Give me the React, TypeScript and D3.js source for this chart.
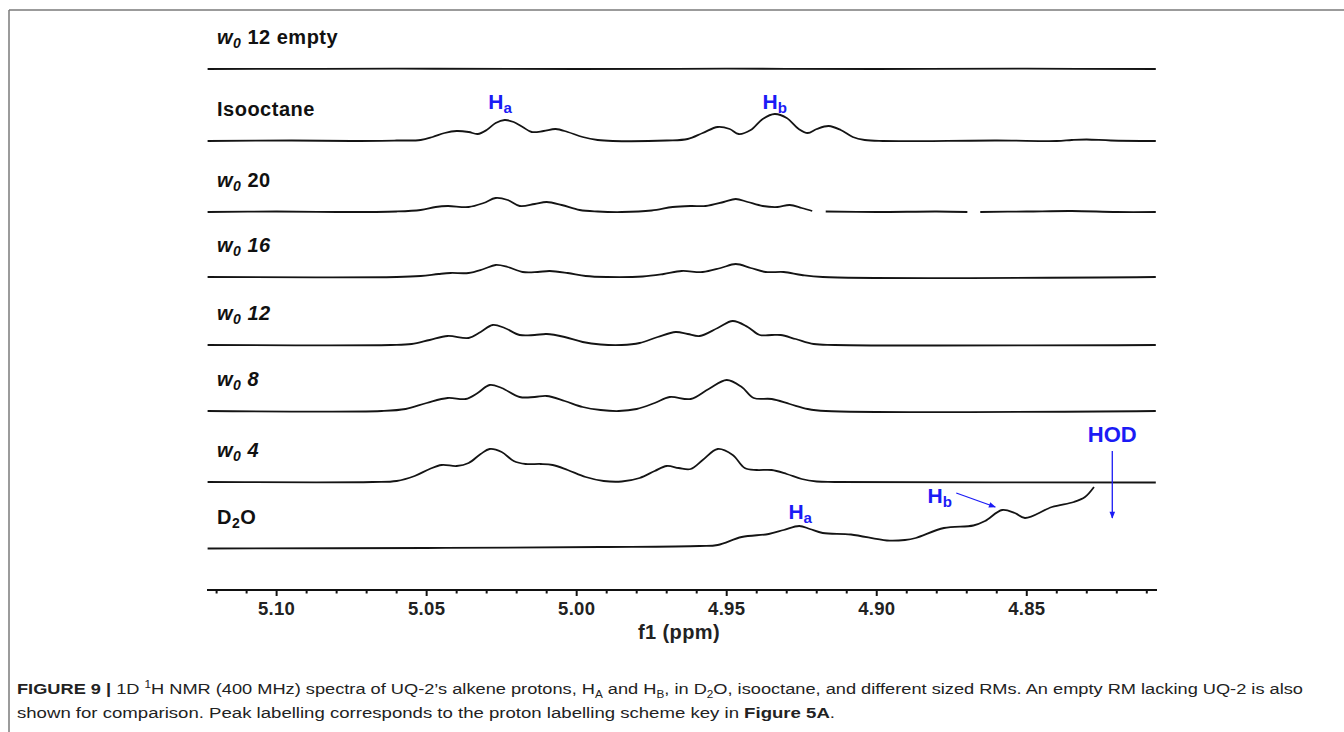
import React from "react";
import * as d3 from "d3";

type Pt = [number, number];

// ---- axis ticks (ppm) ----
const majorTicks = [5.1, 5.05, 5.0, 4.95, 4.9, 4.85];
const minorTicks = [5.12, 5.11, 5.09, 5.08, 5.07, 5.06, 5.04, 5.03, 5.02, 5.01, 4.99, 4.98, 4.97, 4.96, 4.94, 4.93, 4.92, 4.91, 4.89, 4.88, 4.87, 4.86, 4.84, 4.83, 4.82, 4.81];
const tickLabels = ["5.10", "5.05", "5.00", "4.95", "4.90", "4.85"];
const ppmDomain: Pt = [5.1232, 4.8066];

// ---- spectra: [ppm, intensity] ----
const specEmpty: Pt[] = [[5.123, 0], [5.06, 0.3], [5.0, 0], [4.95, 0.3], [4.9, 0], [4.85, 0.3], [4.807, 0]];

const specIsooctane: Pt[] = [
  [5.123, 0], [5.095, 0.5], [5.075, 0], [5.06, 0.5], [5.052, 1], [5.048, 4], [5.044, 8], [5.04, 10], [5.036, 9],
  [5.033, 7], [5.03, 11], [5.027, 18], [5.024, 21], [5.021, 19], [5.018, 14], [5.015, 9], [5.011, 10], [5.007, 12],
  [5.003, 9], [4.998, 4], [4.993, 1], [4.988, 0], [4.97, 0.5], [4.963, 2], [4.958, 8], [4.953, 14], [4.949, 12],
  [4.946, 7], [4.942, 11], [4.938, 22], [4.934, 27], [4.93, 23], [4.926, 12], [4.923, 8], [4.92, 12], [4.916, 15],
  [4.912, 11], [4.908, 4], [4.904, 1], [4.898, 0], [4.86, 0.5], [4.84, 0], [4.835, 1], [4.83, 1.5], [4.822, 0.5], [4.807, 0],
];

const specW20: Pt[] = [
  [5.123, 0], [5.1, 0.5], [5.08, 0], [5.06, 0.5], [5.052, 2], [5.047, 5], [5.043, 6], [5.036, 5], [5.031, 9],
  [5.027, 14], [5.023, 12], [5.019, 6], [5.014, 8], [5.01, 10], [5.005, 7], [4.999, 2], [4.993, 0.5], [4.985, 0],
  [4.975, 1.5], [4.968, 5], [4.962, 6], [4.957, 6], [4.951, 10], [4.947, 13], [4.943, 10], [4.938, 6], [4.933, 5],
  [4.929, 7], [4.925, 4], [4.9215, 1], [4.921, NaN], [4.9175, NaN], [4.917, 0.5], [4.9, 0], [4.88, 0.5], [4.8698, 0],
  [4.869, NaN], [4.866, NaN], [4.8655, 0], [4.85, 0.5], [4.835, 1], [4.82, 0], [4.807, 0],
];

const specW16: Pt[] = [
  [5.123, 0], [5.06, 0], [5.052, 1], [5.046, 3], [5.042, 4], [5.036, 4], [5.031, 8], [5.027, 12], [5.023, 10],
  [5.018, 5], [5.013, 5], [5.009, 6], [5.003, 4], [4.997, 1], [4.99, 0], [4.978, 0.5], [4.971, 3], [4.965, 6],
  [4.958, 5], [4.952, 9], [4.947, 13], [4.942, 9], [4.937, 5], [4.931, 5], [4.925, 2], [4.918, 0], [4.807, 0],
];

const specW12: Pt[] = [
  [5.123, 0], [5.062, 0], [5.055, 1], [5.049, 5], [5.043, 9], [5.036, 7], [5.032, 13], [5.028, 20], [5.024, 17],
  [5.019, 10], [5.014, 10], [5.01, 11], [5.004, 8], [4.998, 3], [4.992, 0.5], [4.985, 0], [4.979, 2], [4.973, 8],
  [4.967, 13], [4.963, 11], [4.959, 9], [4.953, 17], [4.948, 24], [4.943, 18], [4.939, 10], [4.935, 10], [4.932, 10],
  [4.927, 6], [4.921, 1], [4.914, 0], [4.807, 0],
];

const specW8: Pt[] = [
  [5.123, 0], [5.065, 0], [5.057, 2], [5.05, 8], [5.043, 13], [5.037, 12], [5.033, 18], [5.029, 26], [5.025, 23],
  [5.019, 14], [5.014, 14], [5.01, 15], [5.004, 10], [4.998, 4], [4.992, 1], [4.986, 0], [4.98, 2], [4.974, 8],
  [4.969, 14], [4.962, 12], [4.956, 22], [4.95, 31], [4.945, 24], [4.941, 13], [4.935, 12], [4.929, 7], [4.923, 2],
  [4.917, 0], [4.807, 0],
];

const specW4: Pt[] = [
  [5.123, 0], [5.068, 0], [5.06, 1], [5.054, 6], [5.049, 13], [5.045, 17], [5.04, 16], [5.036, 19], [5.032, 28],
  [5.029, 33], [5.025, 30], [5.021, 21], [5.017, 18], [5.012, 18], [5.008, 17], [5.003, 12], [4.997, 5], [4.991, 1],
  [4.985, 0.5], [4.979, 4], [4.974, 11], [4.97, 16], [4.966, 14], [4.962, 13], [4.958, 22], [4.953, 33], [4.948, 27],
  [4.944, 14], [4.94, 12], [4.935, 12], [4.93, 8], [4.925, 3], [4.92, 0.5], [4.914, 0], [4.807, -0.5],
];

const specD2O: Pt[] = [
  [5.123, 0.5], [5.05, 1], [4.992, 2], [4.959, 3], [4.953, 4], [4.945, 12], [4.936, 15], [4.931, 19], [4.9258, 23],
  [4.9223, 20], [4.918, 16], [4.9086, 14.5], [4.8966, 8.5], [4.8906, 9], [4.887, 11], [4.8776, 21], [4.8678, 23.5],
  [4.8639, 28], [4.8582, 39], [4.854, 36], [4.8506, 31], [4.8416, 42], [4.8343, 47], [4.8306, 52], [4.8276, 62],
];

const spectra: Pt[][] = [specD2O, specW4, specW8, specW12, specW16, specW20, specIsooctane, specEmpty];
const stackOffsets = [0, 67, 138, 204, 272, 337, 408, 480];

const BLUE = "#1b1bf5";
const FONT = "'Liberation Sans', Arial, Helvetica, sans-serif";
const LBL = 20;

function W0Label({ x, y, num, italicNum }: { x: number; y: number; num: string; italicNum: boolean }) {
  return (
    <text x={x} y={y} fontFamily={FONT} fontWeight="bold" fontSize={LBL} letterSpacing={0.5} fill="#111">
      <tspan fontStyle="italic">w</tspan>
      <tspan fontStyle="italic" fontSize={14} dy={4}>0</tspan>
      <tspan dy={-4} fontStyle={italicNum ? "italic" : "normal"}>{" " + num}</tspan>
    </text>
  );
}

function HLabel({ x, y, sub, size }: { x: number; y: number; sub: string; size: number }) {
  return (
    <text x={x} y={y} fontFamily={FONT} fontWeight="bold" fontSize={size} fill={BLUE} textAnchor="middle">
      H<tspan fontSize={size * 0.72} dy={4}>{sub}</tspan>
    </text>
  );
}

export default function App() {
  const W = 1344, H = 732;
  const x = d3.scaleLinear().domain(ppmDomain).range([207, 1157]);
  const y = d3.scaleLinear().domain([0, 480]).range([549, 69]);
  const axisY = 590;

  const paths = spectra.map((s, i) => {
    const off = stackOffsets[i];
    const line = d3
      .line<Pt>()
      .defined((d) => !isNaN(d[1]))
      .x((d) => x(d[0]))
      .y((d) => y(off + d[1]))
      .curve(d3.curveCatmullRom.alpha(0.5));
    return line(s) || "";
  });

  const lblX = 217;
  const lblY = (i: number) => y(stackOffsets[i]) - 25;

  return (
    <svg width={W} height={H} style={{ position: "absolute", left: 0, top: 0, background: "#fff" }}>
      <rect x={0} y={0} width={W} height={H} fill="#fff" />
      {/* frame */}
      <line x1={9} y1={10} x2={W} y2={10} stroke="#7a7a7a" strokeWidth={1.5} />
      <line x1={9} y1={10} x2={9} y2={H} stroke="#7a7a7a" strokeWidth={1.5} />

      {/* spectra */}
      {paths.map((p, i) => (
        <path key={i} d={p} fill="none" stroke="#141414" strokeWidth={1.8} strokeLinejoin="round" />
      ))}

      {/* row labels */}
      <W0Label x={lblX} y={lblY(7)} num="12 empty" italicNum={false} />
      <text x={lblX} y={lblY(6)} fontFamily={FONT} fontWeight="bold" fontSize={LBL} letterSpacing={0.5} fill="#111">Isooctane</text>
      <W0Label x={lblX} y={lblY(5)} num="20" italicNum={false} />
      <W0Label x={lblX} y={lblY(4)} num="16" italicNum={true} />
      <W0Label x={lblX} y={lblY(3)} num="12" italicNum={true} />
      <W0Label x={lblX} y={lblY(2)} num="8" italicNum={true} />
      <W0Label x={lblX} y={lblY(1)} num="4" italicNum={true} />
      <text x={lblX} y={lblY(0)} fontFamily={FONT} fontWeight="bold" fontSize={LBL} letterSpacing={0.5} fill="#111">
        D<tspan fontSize={14} dy={4}>2</tspan><tspan dy={-4}>O</tspan>
      </text>

      {/* peak labels */}
      <HLabel x={x(5.0255)} y={y(stackOffsets[6]) - 32} sub="a" size={21} />
      <HLabel x={x(4.934)} y={y(stackOffsets[6]) - 32} sub="b" size={21} />
      <HLabel x={x(4.9255)} y={y(0) - 30} sub="a" size={21} />
      <HLabel x={x(4.879)} y={y(0) - 46} sub="b" size={21} />
      <line x1={x(4.8735)} y1={y(0) - 56} x2={x(4.8605)} y2={y(0) - 42} stroke={BLUE} strokeWidth={1.3} markerEnd="url(#arrowBlue)" />
      <text x={x(4.8215)} y={442} fontFamily={FONT} fontWeight="bold" fontSize={22} fill={BLUE} textAnchor="middle">HOD</text>
      <line x1={x(4.8215)} y1={451} x2={x(4.8215)} y2={518} stroke={BLUE} strokeWidth={1.3} markerEnd="url(#arrowBlue)" />
      <defs>
        <marker id="arrowBlue" viewBox="0 0 10 10" refX={9} refY={5} markerWidth={8} markerHeight={7} orient="auto" markerUnits="userSpaceOnUse">
          <path d="M0,1 L10,5 L0,9 z" fill={BLUE} />
        </marker>
      </defs>

      {/* x axis */}
      <line x1={207} y1={axisY} x2={1157} y2={axisY} stroke="#111" strokeWidth={2.2} />
      {minorTicks.map((t) => (
        <line key={"m" + t} x1={x(t)} x2={x(t)} y1={axisY} y2={axisY + 3.5} stroke="#111" strokeWidth={2} />
      ))}
      {majorTicks.map((t, i) => (
        <g key={"M" + t}>
          <line x1={x(t)} x2={x(t)} y1={axisY} y2={axisY + 6} stroke="#111" strokeWidth={2} />
          <text x={x(t)} y={615} fontFamily={FONT} fontWeight="bold" fontSize={18.5} letterSpacing={0.3} fill="#222" textAnchor="middle">{tickLabels[i]}</text>
        </g>
      ))}
      <text x={679} y={639} fontFamily={FONT} fontWeight="bold" fontSize={20} letterSpacing={0.4} fill="#222" textAnchor="middle">f1 (ppm)</text>

      {/* caption */}
      <text x={17} y={694} fontFamily={FONT} fontSize={15.5} fill="#222" textLength={1286} lengthAdjust="spacingAndGlyphs">
        <tspan fontWeight="bold">FIGURE 9 | </tspan>1D <tspan fontSize={10} dy={-6}>1</tspan><tspan dy={6}>H NMR (400 MHz) spectra of UQ-2’s alkene protons, H</tspan><tspan fontSize={10} dy={4}>A</tspan><tspan dy={-4}> and H</tspan><tspan fontSize={10} dy={4}>B</tspan><tspan dy={-4}>, in D</tspan><tspan fontSize={10} dy={4}>2</tspan><tspan dy={-4}>O, isooctane, and different sized RMs. An empty RM lacking UQ-2 is also</tspan>
      </text>
      <text x={17} y={718} fontFamily={FONT} fontSize={15.5} fill="#222" textLength={818} lengthAdjust="spacingAndGlyphs">
        shown for comparison. Peak labelling corresponds to the proton labelling scheme key in <tspan fontWeight="bold">Figure 5A</tspan>.
      </text>
    </svg>
  );
}
